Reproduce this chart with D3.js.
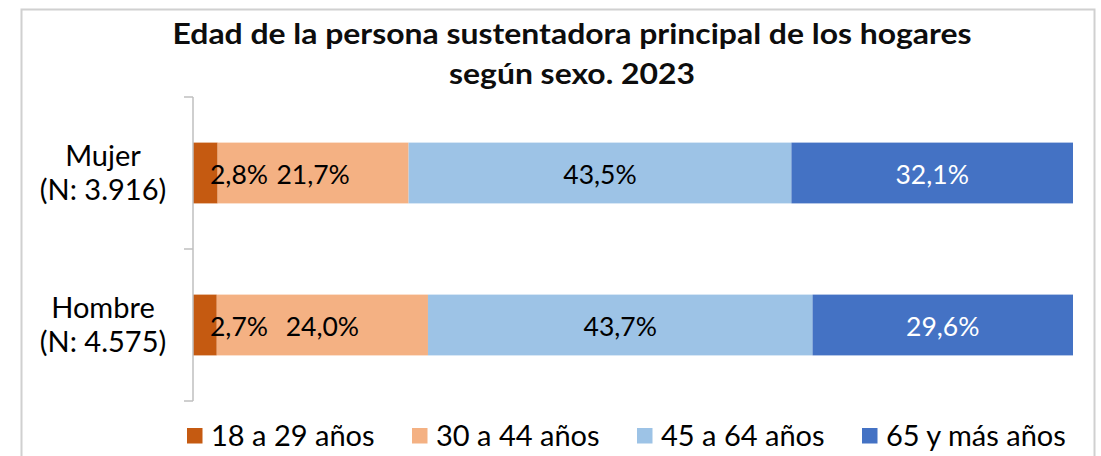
<!DOCTYPE html>
<html>
<head>
<meta charset="utf-8">
<script src="https://cdn.jsdelivr.net/npm/d3@7"></script>
<style>
  body { margin: 0; background: #fff; }
  svg text { font-family: Lato, "Noto Sans", sans-serif; }
</style>
</head>
<body>
<div id="chart"></div>
<script>
// data
const categories = ["Mujer", "Hombre"];
const categorySub = ["(N: 3.916)", "(N: 4.575)"];
const seriesNames = ["18 a 29 años", "30 a 44 años", "45 a 64 años", "65 y más años"];
const mujerValues = [2.8, 21.7, 43.5, 32.1];
const hombreValues = [2.7, 24.0, 43.7, 29.6];
const colors = ["#c55a11", "#f4b183", "#9dc3e6", "#4472c4"];
const titleLines = ["Edad de la persona sustentadora principal de los hogares", "según sexo. 2023"];

const width = 1101, height = 456;
const svg = d3.select("#chart").append("svg")
  .attr("width", width).attr("height", height);

// outer border of chart area
svg.append("rect")
  .attr("x", 21.5).attr("y", 9.5)
  .attr("width", 1073).attr("height", 460)
  .attr("fill", "#fff").attr("stroke", "#d0d0d0").attr("stroke-width", 2);

// title (stretched a bit to match the original's width)
const titleY = [44, 84], titleW = [799, 246];
titleLines.forEach((line, i) => {
  svg.append("text")
    .attr("x", 572).attr("y", titleY[i])
    .attr("text-anchor", "middle")
    .attr("font-weight", "bold").attr("font-size", 28)
    .attr("fill", "#0d0d0d")
    .attr("textLength", titleW[i]).attr("lengthAdjust", "spacingAndGlyphs")
    .text(line);
});

const rows = [mujerValues, hombreValues];

const x = d3.scaleLinear().domain([0, 100]).range([193, 1073]);
const y = d3.scaleBand().domain(categories).range([97, 401])
  .paddingInner(0.6).paddingOuter(0.3);

// stacked segments
const stacks = rows.map(vals => {
  let acc = 0;
  return vals.map((v, i) => {
    const s = { x0: acc, x1: Math.min(100, acc + v), v, i };
    acc += v;
    return s;
  });
});

const g = svg.append("g");
stacks.forEach((segs, r) => {
  const cat = categories[r];
  g.selectAll(null).data(segs).enter()
    .append("rect")
    .attr("x", d => x(d.x0))
    .attr("y", y(cat))
    .attr("width", d => x(d.x1) - x(d.x0))
    .attr("height", y.bandwidth())
    .attr("fill", d => colors[d.i]);

  // small segments get their label pushed to the right
  g.selectAll(null).data(segs).enter()
    .append("text")
    .attr("font-size", 26.5)
    .attr("fill", d => d.i === 3 ? "#fff" : "#000")
    .attr("y", y(cat) + y.bandwidth() / 2 + 10.5)
    .attr("text-anchor", d => (x(d.x1) - x(d.x0)) < 60 ? "start" : "middle")
    .attr("x", d => (x(d.x1) - x(d.x0)) < 60 ? x(d.x0) + 17 : (x(d.x0) + x(d.x1)) / 2)
    .text(d => d.v.toFixed(1).replace(".", ",") + "%");
});

// category axis, ticks between bands
const axis = svg.append("g").attr("stroke", "#bfbfbf").attr("stroke-width", 1.5);
axis.append("line")
  .attr("x1", x(0)).attr("x2", x(0))
  .attr("y1", y.range()[0]).attr("y2", y.range()[1]);
const bounds = [y.range()[0], y(categories[1]) - y.step() * y.paddingInner() / 2, y.range()[1]];
axis.selectAll(null).data(bounds).enter()
  .append("line")
  .attr("x1", x(0) - 9).attr("x2", x(0))
  .attr("y1", d => d).attr("y2", d => d);

categories.forEach((c, r) => {
  const cy = y(c) + y.bandwidth() / 2;
  const t = svg.append("text").attr("text-anchor", "middle")
    .attr("font-size", 29).attr("fill", "#000");
  t.append("tspan").attr("x", 103).attr("y", cy - 7).text(c);
  t.append("tspan").attr("x", 103).attr("y", cy + 27).text(categorySub[r]);
});

// legend
const legend = svg.append("g");
seriesNames.forEach((name, i) => {
  const lx = 187 + i * 225;
  legend.append("rect")
    .attr("x", lx).attr("y", 428)
    .attr("width", 15.5).attr("height", 15.5)
    .attr("fill", colors[i]);
  legend.append("text")
    .attr("x", lx + 24).attr("y", 446)
    .attr("font-size", 29).attr("fill", "#000")
    .text(name);
});
</script>
</body>
</html>
